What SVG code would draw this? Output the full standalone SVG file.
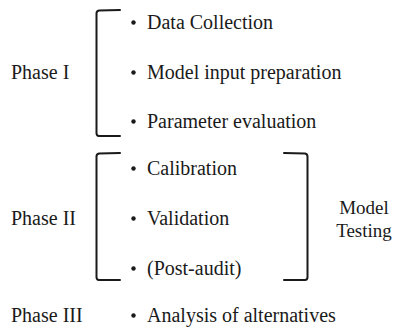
<svg xmlns="http://www.w3.org/2000/svg" width="395" height="330" viewBox="0 0 395 330">
<style>
.t{font-family:'Liberation Serif',serif;font-size:20px;fill:#1a1a1a}
.b{fill:none;stroke:#1a1a1a;stroke-width:2;stroke-linecap:round;stroke-linejoin:round}
.d{fill:#1a1a1a}
.mt{font-family:'Liberation Serif',serif;font-size:19px;fill:#1a1a1a;text-anchor:middle}
</style>
<rect width="395" height="330" fill="#fff"/>
<g id="phase1">
<text class="t" x="11" y="79">Phase I</text>
<path class="b" d="M120,10 L99,10.5 Q96.5,11 96.5,13.5 L96.5,133 Q96.5,136 99,136 L120,136"/>
<circle class="d" cx="133.5" cy="22.5" r="2.2"/><text class="t" x="147" y="29">Data Collection</text>
<circle class="d" cx="133.5" cy="72.5" r="2.2"/><text class="t" x="147" y="79">Model input preparation</text>
<circle class="d" cx="133.5" cy="121.5" r="2.2"/><text class="t" x="147" y="128">Parameter evaluation</text>
</g>
<g id="phase2">
<text class="t" x="11" y="225">Phase II</text>
<path class="b" d="M120,153 L99,153.5 Q96.5,154 96.5,156.5 L96.5,277 Q96.5,280 99,280 L120,280"/>
<circle class="d" cx="133.5" cy="168.5" r="2.2"/><text class="t" x="147" y="175">Calibration</text>
<circle class="d" cx="133.5" cy="218.5" r="2.2"/><text class="t" x="147" y="225">Validation</text>
<circle class="d" cx="133.5" cy="268.5" r="2.2"/><text class="t" x="147" y="275">(Post-audit)</text>
</g>
<g id="modeltesting">
<path class="b" d="M284,153 L305,153.5 Q307.5,154 307.5,156.5 L307.5,277 Q307.5,280 305,280 L284,280"/>
<text class="mt" x="364" y="214">Model</text>
<text class="mt" x="364" y="237">Testing</text>
</g>
<g id="phase3">
<text class="t" x="11" y="322">Phase III</text>
<circle class="d" cx="133.5" cy="315.5" r="2.2"/><text class="t" x="147" y="322">Analysis of alternatives</text>
</g>
<g id="connectors"></g>
</svg>
